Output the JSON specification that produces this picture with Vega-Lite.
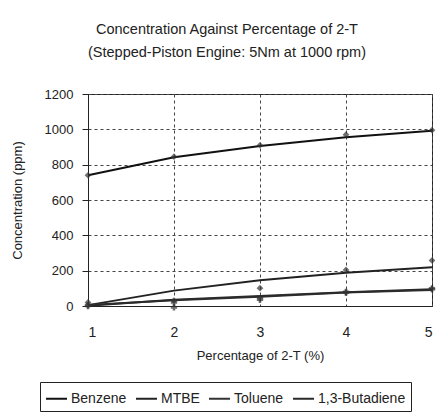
{
  "$schema": "https://vega.github.io/schema/vega-lite/v6.json",
  "width": 344,
  "height": 212,
  "padding": {"left": 11, "top": 21, "right": 0, "bottom": 6},
  "background": "white",
  "title": {
    "text": ["Concentration Against Percentage of 2-T", "(Stepped-Piston Engine: 5Nm at 1000 rpm)"],
    "font": "Liberation Sans",
    "fontSize": 14.5,
    "fontWeight": "normal",
    "color": "#222",
    "offset": 28,
    "lineHeight": 23,
    "anchor": "middle",
    "dx": -33
  },
  "data": {
    "values": [
      {"pct": 1, "series": "Benzene", "value": 740, "fit": 740},
      {"pct": 2, "series": "Benzene", "value": 845, "fit": 842},
      {"pct": 3, "series": "Benzene", "value": 910, "fit": 905},
      {"pct": 4, "series": "Benzene", "value": 970, "fit": 955},
      {"pct": 5, "series": "Benzene", "value": 995, "fit": 992},
      {"pct": 1, "series": "MTBE", "value": 20, "fit": 5},
      {"pct": 2, "series": "MTBE", "value": 30, "fit": 87},
      {"pct": 3, "series": "MTBE", "value": 101, "fit": 146},
      {"pct": 4, "series": "MTBE", "value": 204, "fit": 188},
      {"pct": 5, "series": "MTBE", "value": 258, "fit": 219},
      {"pct": 1, "series": "Toluene", "value": 5, "fit": 5},
      {"pct": 2, "series": "Toluene", "value": 20, "fit": 33},
      {"pct": 3, "series": "Toluene", "value": 45, "fit": 52},
      {"pct": 4, "series": "Toluene", "value": 75, "fit": 76},
      {"pct": 5, "series": "Toluene", "value": 95, "fit": 91},
      {"pct": 1, "series": "1,3-Butadiene", "value": 0, "fit": 2},
      {"pct": 2, "series": "1,3-Butadiene", "value": -8, "fit": 35},
      {"pct": 3, "series": "1,3-Butadiene", "value": 35, "fit": 56},
      {"pct": 4, "series": "1,3-Butadiene", "value": 80, "fit": 78},
      {"pct": 5, "series": "1,3-Butadiene", "value": 100, "fit": 95}
    ]
  },
  "encoding": {
    "x": {
      "field": "pct", "type": "quantitative",
      "scale": {"domain": [1, 5], "nice": false},
      "axis": {
        "title": "Percentage of 2-T (%)",
        "values": [1, 2, 3, 4, 5],
        "format": "d",
        "grid": true, "gridDash": [3, 3], "gridColor": "#444", "gridWidth": 1,
        "domainColor": "#222", "tickColor": "#222", "tickSize": 0,
        "labelFont": "Liberation Sans", "labelFontSize": 14, "labelColor": "#222", "labelPadding": 19,
        "titleFont": "Liberation Sans", "titleFontSize": 13, "titleFontWeight": "normal", "titleColor": "#222", "titlePadding": 10
      }
    },
    "y": {
      "type": "quantitative",
      "scale": {"domain": [0, 1200], "nice": false},
      "axis": {
        "title": "Concentration (ppm)",
        "values": [0, 200, 400, 600, 800, 1000, 1200],
        "format": "d",
        "grid": true, "gridDash": [3, 3], "gridColor": "#444", "gridWidth": 1,
        "domainColor": "#222", "tickColor": "#222", "tickSize": 6,
        "labelFont": "Liberation Sans", "labelFontSize": 13, "labelColor": "#222", "labelPadding": 9,
        "titleFont": "Liberation Sans", "titleFontSize": 13, "titleFontWeight": "normal", "titleColor": "#222", "titlePadding": 20
      }
    }
  },
  "layer": [
    {
      "mark": {"type": "line", "strokeWidth": 2},
      "encoding": {
        "y": {"field": "fit", "type": "quantitative"},
        "color": {
          "field": "series", "type": "nominal",
          "scale": {"domain": ["Benzene", "MTBE", "Toluene", "1,3-Butadiene"], "range": ["#111", "#222", "#333", "#2a2a2a"]},
          "legend": {
            "title": null, "orient": "none", "direction": "horizontal",
            "legendX": -48, "legendY": 288,
            "symbolType": "stroke", "symbolSize": 440, "symbolStrokeWidth": 2,
            "labelFont": "Liberation Sans", "labelFontSize": 14, "labelColor": "#222",
            "columnPadding": 5, "labelOffset": 3,
            "strokeColor": "#222", "padding": 5
          }
        }
      }
    },
    {
      "transform": [{"filter": {"field": "series", "oneOf": ["Benzene", "MTBE"]}}],
      "mark": {"type": "point", "shape": "diamond", "filled": true, "size": 45, "color": "#333"},
      "encoding": {"y": {"field": "value", "type": "quantitative"}}
    },
    {
      "transform": [{"filter": {"field": "series", "oneOf": ["Toluene", "1,3-Butadiene"]}}],
      "mark": {"type": "point", "shape": "cross", "filled": true, "size": 40, "color": "#333"},
      "encoding": {"y": {"field": "value", "type": "quantitative"}}
    }
  ],
  "config": {
    "view": {"stroke": "#222", "strokeWidth": 1}
  }
}
